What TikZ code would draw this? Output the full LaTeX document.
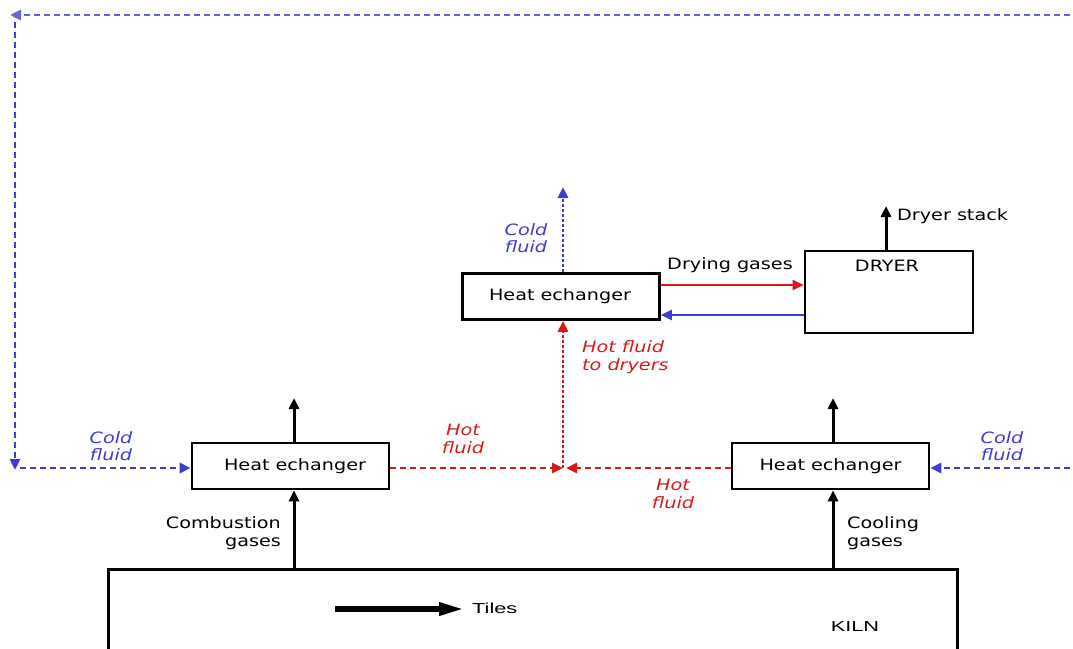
\documentclass[tikz,border=0pt]{standalone}
\usepackage{fontspec}
\setmainfont{DejaVu Sans}[FakeStretch=1.23]
\newfontfamily\kilnfont{Liberation Sans}[FakeStretch=1.5]
\usetikzlibrary{arrows.meta}
\definecolor{cblue}{RGB}{60,60,215}
\definecolor{lblue}{RGB}{100,100,220}
\definecolor{cred}{RGB}{215,25,25}
\tikzset{
  hx/.style={draw=black, line width=2.6pt, minimum width=197pt, minimum height=46pt, inner sep=0pt, font=\fontsize{15.6pt}{18pt}\selectfont},
  tip/.style={-{Triangle[length=11pt,width=10pt]}},
  blk/.style={tip, line width=3pt, black},
  colddash/.style={tip, line width=2.8pt, cblue, dash pattern=on 6pt off 4pt},
  colddot/.style={tip, line width=2.8pt, cblue, dash pattern=on 3pt off 2pt},
  hotdash/.style={tip, line width=2.8pt, cred, dash pattern=on 6pt off 4pt},
  hotdot/.style={tip, line width=2.8pt, cred, dash pattern=on 3pt off 2pt},
  coldlbl/.style={text=cblue, font=\fontsize{15.6pt}{17.5pt}\selectfont\itshape, align=center, inner sep=0pt},
  hotlbl/.style={text=cred, font=\fontsize{15.6pt}{17.5pt}\selectfont\itshape, align=center, inner sep=0pt},
  lbl/.style={font=\fontsize{15.6pt}{18.5pt}\selectfont, inner sep=0pt},
}
\begin{document}
\begin{tikzpicture}[x=1pt,y=-1pt]
\clip (0,0) rectangle (1073,648);
\fill[white] (0,0) rectangle (1073,648);

% boxes
\node[hx] (lhx) at (290.5,466) {\hspace{9pt}Heat echanger};
\node[hx] (rhx) at (830.5,466) {\hspace{0pt}Heat echanger};
\node[hx] (thx) at (561,296.5) {\hspace{-2pt}Heat echanger};
\node[draw=black, line width=2.6pt, minimum width=168pt, minimum height=82pt, inner sep=0pt] (dryer) at (889,292) {};
\node[lbl] (dryertxt) at (887,266) {DRYER};
\node[draw=black, line width=2.6pt, minimum width=849pt, minimum height=120pt, inner sep=0pt, anchor=north west] (kiln) at (107,568) {};

% coordinates
\coordinate (tr) at (1080,15);
\coordinate (tl) at (10,15);
\coordinate (vt) at (15,22);
\coordinate (vb) at (15,470);
\coordinate (lh) at (20,468);
\coordinate (rr) at (1080,468);
\coordinate (j) at (563,468);
\coordinate (jr) at (566,468);
\coordinate (cup) at (563,187);
\coordinate (lup) at (294,398);
\coordinate (rup) at (833,398);
\coordinate (stk) at (886,206);
\coordinate (tilesA) at (335,609);
\coordinate (tilesB) at (465,609);

% cold fluid loop
\draw[colddash, lblue] (tr) -- (tl);
\draw[colddash] (vt) -- (vb);
\draw[colddash] (lh) -- (lhx.west |- lh);
\draw[colddash] (rr) -- (rhx.east |- rr);
\draw[colddot] (thx.north -| cup) -- (cup);

% hot fluid
\draw[hotdash] (lhx.east |- j) -- (j);
\draw[hotdash] (rhx.west |- jr) -- (jr);
\draw[hotdot] (j) -- (thx.south -| j);

% drying gases
\draw[tip, line width=2.3pt, cred] (thx.east |- 0,285) -- (dryer.west |- 0,285);
\draw[tip, line width=2.3pt, cblue] (dryer.west |- 0,315) -- (thx.east |- 0,315);

% black arrows
\draw[blk] (kiln.north -| lup) -- (lhx.south -| lup);
\draw[blk] (lhx.north -| lup) -- (lup);
\draw[blk] (kiln.north -| rup) -- (rhx.south -| rup);
\draw[blk] (rhx.north -| rup) -- (rup);
\draw[blk] (dryer.north -| stk) -- (stk);
\draw[-{Triangle[length=26pt,width=12pt]}, line width=6pt, black] (tilesA) -- (tilesB);

% labels
\node[coldlbl] (c1) at (111,446) {Cold\\fluid};
\node[coldlbl] (c2) at (1002,446) {Cold\\fluid};
\node[coldlbl] (c3) at (526,238) {Cold\\fluid};
\node[hotlbl] (h1) at (463,439) {Hot\\fluid};
\node[hotlbl] (h2) at (673,494) {Hot\\fluid};
\node[hotlbl, align=left, anchor=west] (h3) at (582,357) {Hot fluid\\to dryers};
\node[lbl] (dg) at (730,265) {Drying gases};
\node[lbl, anchor=west] (ds) at (897,216) {Dryer stack};
\node[lbl, align=right, anchor=east] (cg) at (281,533) {Combustion\\gases};
\node[lbl, align=left, anchor=west] (cog) at (847,533) {Cooling\\gases};
\node[font=\kilnfont\fontsize{14.5pt}{16pt}\selectfont, anchor=west, inner sep=0pt] (tiles) at (472,608) {Tiles};
\node[font=\kilnfont\fontsize{14.5pt}{16pt}\selectfont, inner sep=0pt] (kilntxt) at (855,627) {KILN};
\end{tikzpicture}
\end{document}
